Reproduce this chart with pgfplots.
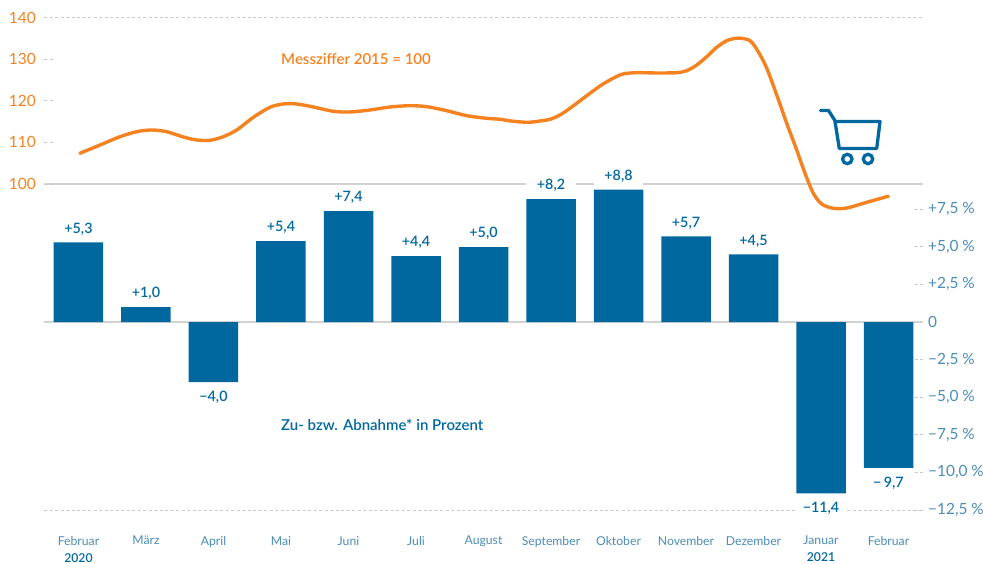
\documentclass[border=0pt]{standalone}
\usepackage{pgfplots}
\usepackage{fontspec}
\setmainfont{Lato}
\newfontfamily\med{Lato Semibold}
\pgfplotsset{compat=1.18}
\definecolor{barblue}{HTML}{00689F}
\definecolor{ticblue}{HTML}{4A8CB6}
\definecolor{orng}{HTML}{F58220}
\definecolor{lgrey}{HTML}{D2D2D2}
\definecolor{dgrey}{HTML}{C9C9C9}
\pgfplotstableread{
x y lab
0 5.3 {+5,3}
1 1.0 {+1,0}
3 5.4 {+5,4}
4 7.4 {+7,4}
5 4.4 {+4,4}
6 5.0 {+5,0}
7 8.2 {+8,2}
8 8.8 {+8,8}
9 5.7 {+5,7}
10 4.5 {+4,5}
}\barspos
\pgfplotstableread{
x y lab
2 -4.0 {−4,0}
11 -11.4 {−11,4}
12 -9.7 {−\,9,7}
}\barsneg
\begin{document}
\begin{tikzpicture}[x=1pt,y=1pt]
\useasboundingbox (0,0) rectangle (983,564);
\begin{axis}[
  at={(44pt,54pt)},anchor=south west,
  scale only axis,width=879pt,height=492.5pt,
  xmin=-0.511,xmax=12.511,ymin=-12.5,ymax=20.25,
  axis line style={draw=none},
  clip=false,
  xtick={0,...,12},
  xticklabels={Februar\\{\med\color{barblue}2020},März,April,Mai,Juni,Juli,August,September,Oktober,November,Dezember,Januar\\{\med\color{barblue}2021},Februar},
  x tick style={draw=none},
  xticklabel style={font=\fontsize{12.2}{17}\selectfont,text=ticblue,align=center,anchor=north,yshift=-26pt,inner sep=0pt},
  ytick={-12.5,-10,-7.5,-5,-2.5,0,2.5,5,7.5},
  yticklabels={{−12,5 \%},{−10,0 \%},{−7,5 \%},{−5,0 \%},{−2,5 \%},{0},{+2,5 \%},{+5,0 \%},{+7,5 \%}},
  ytick pos=right,yticklabel pos=right,
  major tick length=9pt,
  y tick style={draw=dgrey,line width=0.8pt,dash pattern=on 3pt off 2.5pt},
  tick align=inside,
  yticklabel style={font=\fontsize{15.4}{17}\selectfont,text=ticblue,anchor=west,xshift=5pt,inner sep=0pt},
]
\addplot[lgrey,line width=1.6pt,forget plot] coordinates {(-0.511,0)(12.511,0)};
\addplot[lgrey,line width=1.6pt,forget plot] coordinates {(-0.511,9.176)(12.511,9.176)};
\addplot[dgrey,line width=0.8pt,dash pattern=on 3pt off 2.5pt,forget plot] coordinates {(-0.511,-12.5)(12.511,-12.5)};
\addplot[dgrey,line width=0.8pt,dash pattern=on 3pt off 2.5pt,forget plot] coordinates {(-0.511,20.25)(12.511,20.25)};
\addplot[ybar,bar width=49.5pt,fill=barblue,draw=none,
  point meta=explicit symbolic,
  nodes near coords,
  every node near coord/.append style={font=\fontsize{14.3}{16}\selectfont\med,text=barblue,fill=white,inner sep=0pt,minimum width=49.5pt,minimum height=26pt,anchor=south},
] table[x=x,y=y,meta=lab] {\barspos};
\addplot[ybar,bar width=49.5pt,fill=barblue,draw=none,
  point meta=explicit symbolic,
  nodes near coords,
  every node near coord/.append style={font=\fontsize{14.3}{16}\selectfont\med,text=barblue,fill=white,inner sep=0pt,minimum width=49.5pt,minimum height=26pt,anchor=north,yshift=-2pt},
] table[x=x,y=y,meta=lab] {\barsneg};
\end{axis}
\begin{axis}[
  at={(44pt,54pt)},anchor=south west,
  scale only axis,width=879pt,height=492.5pt,
  xmin=-0.511,xmax=12.511,ymin=21.68,ymax=140,
  axis line style={draw=none},
  xtick=\empty,
  ytick={100,110,120,130,140},
  yticklabels={100,110,120,130,140},
  ytick pos=left,yticklabel pos=left,
  major tick length=9pt,
  tick align=inside,
  y tick style={draw=dgrey,line width=0.8pt,dash pattern=on 3pt off 2.5pt},
  yticklabel style={font=\fontsize{15.5}{17}\selectfont,text=orng,anchor=east,xshift=-8pt,inner sep=0pt},
]
\addplot[orng,line width=3.4pt,smooth,line cap=round] coordinates {
(0.022,107.38)(0.319,109.37)(0.615,111.36)(0.862,112.56)(1.084,112.97)(1.307,112.56)(1.553,111.29)(1.751,110.57)(1.948,110.50)(2.145,111.36)(2.344,112.97)(2.590,116.02)(2.837,118.43)(3.034,119.22)(3.233,119.22)(3.479,118.50)(3.775,117.47)(4.022,117.30)(4.319,117.78)(4.615,118.50)(4.911,118.81)(5.159,118.57)(5.455,117.61)(5.751,116.41)(6.047,115.78)(6.244,115.54)(6.441,115.06)(6.664,114.82)(6.837,115.14)(6.985,115.54)(7.133,116.58)(7.281,118.19)(7.479,120.59)(7.726,123.54)(7.919,125.39)(8.067,126.43)(8.270,126.74)(8.566,126.67)(8.862,126.74)(9.010,127.22)(9.159,128.59)(9.307,130.58)(9.455,132.84)(9.603,134.43)(9.704,134.9)(9.793,135.03)(9.948,134.43)(10.07,131.78)(10.196,127.80)(10.344,121.38)(10.492,114.58)(10.64,108.17)(10.763,102.57)(10.886,97.77)(11.01,95.20)(11.182,94.16)(11.381,94.23)(11.677,95.60)(11.997,97.05)};
\end{axis}
\begin{scope}[yscale=-1,yshift=-564pt]
\node[anchor=west,inner sep=0pt,text=orng,font=\fontsize{15}{17}\selectfont\med] at (281,59.5) {Messziffer 2015 = 100};
\node[anchor=west,inner sep=0pt,text=barblue,font=\fontsize{15}{17}\selectfont\med] at (281,424.5) {Zu- bzw. Abnahme* in Prozent};
\draw[barblue,line width=3.3pt,line join=round,line cap=round] (820.5,110.5)--(828.5,110.5)--(835,120.7)(835,121.5)--(880,121.5)--(876.7,148.5)--(839.3,148.5)--cycle;
\draw[barblue,line width=3.3pt] (847.3,159) circle (4.7);
\draw[barblue,line width=3.3pt] (868,159) circle (4.7);
\end{scope}
\end{tikzpicture}
\end{document}
